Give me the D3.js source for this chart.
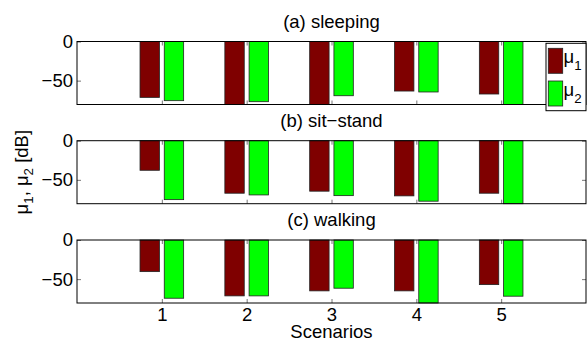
<!DOCTYPE html>
<html>
<head>
<meta charset="utf-8">
<script src="https://cdn.jsdelivr.net/npm/d3@7"></script>
<style>
  html, body { margin: 0; padding: 0; background: #fff; }
  svg { display: block; }
  text { font-family: "Liberation Sans", Arial, Helvetica, sans-serif; fill: #000; }
</style>
</head>
<body>
<svg id="chart" width="587" height="340"></svg>
<script>
// Scenario indices on the x axis
const scenarios = [1, 2, 3, 4, 5];
const panelTitles = ["(a) sleeping", "(b) sit\u2212stand", "(c) walking"];

// mu_1 / mu_2 per activity, in dB (bars that run past the axis floor are clipped there)
const mu1Sleeping = [-71.4, -82, -82, -63.3, -67.1];
const mu2Sleeping = [-75.6, -76.9, -69.3, -64.5, -82];
const mu1SitStand = [-37.8, -67.1, -64.5, -70.5, -67.1];
const mu2SitStand = [-75.3, -69.3, -70.2, -77.3, -82];
const mu1Walking = [-40.4, -71.4, -65.0, -65.0, -57.0];
const mu2Walking = [-74.4, -71.4, -61.6, -82, -71.8];

const yTicks = [-50, 0];
const xTicks = [1, 2, 3, 4, 5];
const seriesColors = ["#7f0000", "#00ff00"];
const seriesLabels = [["\u03bc", "1"], ["\u03bc", "2"]];

const panels = [
  [mu1Sleeping, mu2Sleeping],
  [mu1SitStand, mu2SitStand],
  [mu1Walking, mu2Walking]
];

const svg = d3.select("#chart");
const FS = 18.5;

const left = 77, right = 586;
const panelTop = [41.5, 140.7, 240];
const panelH = 63;

const x = d3.scaleLinear().domain([0, 6]).range([left, right]);
// grouped bar layout: two bars per scenario
const groupW = 2 / 3.5;
const barW = (groupW / 2) * 0.8;
const offsets = [-groupW / 4, groupW / 4];

panels.forEach((series, pi) => {
  const top = panelTop[pi];
  const y = d3.scaleLinear().domain([-80.5, 0]).range([top + panelH, top]).clamp(true);
  const g = svg.append("g");

  // bars
  series.forEach((vals, si) => {
    g.selectAll(null)
      .data(vals)
      .join("rect")
      .attr("x", (d, i) => x(scenarios[i] + offsets[si] - barW / 2))
      .attr("width", x(barW) - x(0))
      .attr("y", y(0))
      .attr("height", d => y(d) - y(0))
      .attr("fill", seriesColors[si])
      .attr("stroke", "#222")
      .attr("stroke-width", 0.8);
  });

  // inward ticks on all four sides
  const tickStyle = sel => {
    sel.select(".domain").remove();
    sel.selectAll(".tick line").attr("stroke", "#777").attr("stroke-width", 1);
    sel.selectAll(".tick text").attr("font-size", FS).attr("font-family", null);
  };

  g.append("g")
    .attr("transform", `translate(${left},0)`)
    .call(d3.axisLeft(y).tickValues(yTicks).tickSize(-4).tickPadding(4))
    .call(tickStyle);
  g.append("g")
    .attr("transform", `translate(${right},0)`)
    .call(d3.axisRight(y).tickValues(yTicks).tickSize(-4).tickFormat(""))
    .call(tickStyle);
  g.append("g")
    .attr("transform", `translate(0,${top})`)
    .call(d3.axisTop(x).tickValues(xTicks).tickSize(-4).tickFormat(""))
    .call(tickStyle);
  const bottomAxis = d3.axisBottom(x).tickValues(xTicks).tickSize(-4).tickPadding(5)
    .tickFormat(pi === panels.length - 1 ? d3.format("d") : "");
  g.append("g")
    .attr("transform", `translate(0,${top + panelH})`)
    .call(bottomAxis)
    .call(tickStyle);

  // axes box
  g.append("rect")
    .attr("x", left).attr("y", top)
    .attr("width", right - left).attr("height", panelH)
    .attr("fill", "none").attr("stroke", "#000").attr("stroke-width", 1);

  // panel title
  g.append("text")
    .attr("x", (left + right) / 2)
    .attr("y", top - 14)
    .attr("text-anchor", "middle")
    .attr("font-size", FS)
    .text(panelTitles[pi]);
});

// x axis label
svg.append("text")
  .attr("x", (left + right) / 2)
  .attr("y", 337.5)
  .attr("text-anchor", "middle")
  .attr("font-size", FS)
  .text("Scenarios");

// y axis label with subscripts
const yl = svg.append("text")
  .attr("transform", `translate(28,${panelTop[1] + panelH / 2}) rotate(-90)`)
  .attr("text-anchor", "middle")
  .attr("font-size", FS);
yl.append("tspan").text("\u03bc");
yl.append("tspan").attr("font-size", FS * 0.72).attr("dy", 5).text("1");
yl.append("tspan").attr("dy", -5).text(", \u03bc");
yl.append("tspan").attr("font-size", FS * 0.72).attr("dy", 5).text("2");
yl.append("tspan").attr("dy", -5).text(" [dB]");

// legend
const lg = svg.append("g");
lg.append("rect")
  .attr("x", 546).attr("y", 43.3).attr("width", 40).attr("height", 67.4)
  .attr("fill", "#fff").attr("stroke", "#000").attr("stroke-width", 1);
seriesLabels.forEach((lab, i) => {
  const sy = 48.3 + i * 32.7;
  lg.append("rect")
    .attr("x", 548.3).attr("y", sy).attr("width", 14.4).attr("height", 25)
    .attr("fill", seriesColors[i]).attr("stroke", "#222").attr("stroke-width", 0.8);
  const t = lg.append("text")
    .attr("x", 563.5).attr("y", sy + 15)
    .attr("font-size", FS);
  t.append("tspan").text(lab[0]);
  t.append("tspan").attr("font-size", FS * 0.72).attr("dy", 7).text(lab[1]);
});
</script>
</body>
</html>
